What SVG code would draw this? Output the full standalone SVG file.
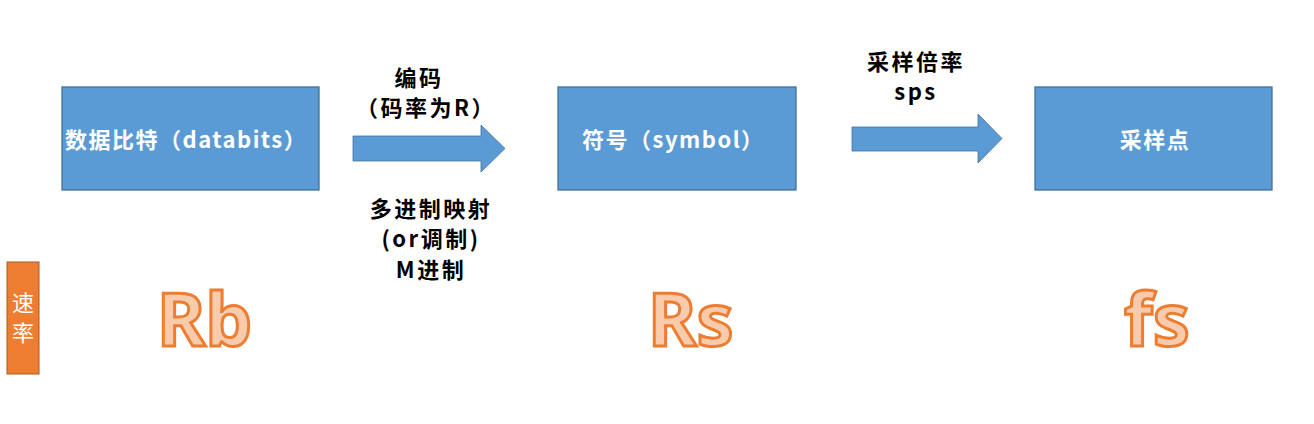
<svg xmlns="http://www.w3.org/2000/svg" width="1314" height="424" viewBox="0 0 1314 424">
<style>
.box{fill:#5b9bd5;stroke:#41719c;stroke-width:1.3}
.arrow{fill:#5b9bd5;stroke:#41719c;stroke-width:0.8}
.wt{font-family:"Noto Sans CJK SC","Microsoft YaHei",sans-serif;font-size:22px;letter-spacing:1.5px;font-weight:bold;fill:#ffffff}
.bt{font-family:"Noto Sans CJK SC","Microsoft YaHei",sans-serif;font-size:22px;letter-spacing:2.5px;font-weight:bold;fill:#000000;text-anchor:middle}
.big{font-family:"Noto Sans","Open Sans",sans-serif;font-size:74px;font-weight:bold;fill:#f8cbad;stroke:#ed7d31;stroke-width:3;paint-order:fill}
</style>
<rect width="1314" height="424" fill="#ffffff"/>
<g id="node-databits">
<rect class="box" x="62" y="87" width="257" height="103"/>
<text class="wt" x="65" y="148">数据比特（databits）</text>
</g>
<g id="node-symbol">
<rect class="box" x="558" y="87" width="238" height="103"/>
<text class="wt" x="582" y="148">符号（symbol）</text>
</g>
<g id="node-samples">
<rect class="box" x="1035" y="87" width="237" height="103"/>
<text class="wt" x="1155" y="148" text-anchor="middle">采样点</text>
</g>
<g id="connectors">
<polygon class="arrow" points="353,136 481,136 481,125 505,148.5 481,172 481,161 353,161"/>
<polygon class="arrow" points="852,127 978,127 978,114 1002,138.5 978,163 978,151 852,151"/>
<text class="bt" x="419" y="86">编码</text>
<text class="bt" x="426" y="116">（码率为R）</text>
<text class="bt" x="431" y="217">多进制映射</text>
<text class="bt" x="431" y="247">(or调制)</text>
<text class="bt" x="431" y="278">M进制</text>
<text class="bt" x="916" y="70">采样倍率</text>
<text class="bt" x="916" y="100">sps</text>
</g>
<g id="node-rate">
<rect x="7" y="262" width="32" height="112" fill="#ed7d31" stroke="#ae5a21" stroke-width="1"/>
<text x="23" y="311" text-anchor="middle" font-family="Noto Sans CJK SC,sans-serif" font-size="22" fill="#ffffff">速</text>
<text x="23" y="341" text-anchor="middle" font-family="Noto Sans CJK SC,sans-serif" font-size="22" fill="#ffffff">率</text>
</g>
<g id="node-Rb"><text class="big" x="157" y="346">Rb</text></g>
<g id="node-Rs"><text class="big" x="648" y="346">Rs</text></g>
<g id="node-fs"><text class="big" x="1124" y="346">fs</text></g>
</svg>
